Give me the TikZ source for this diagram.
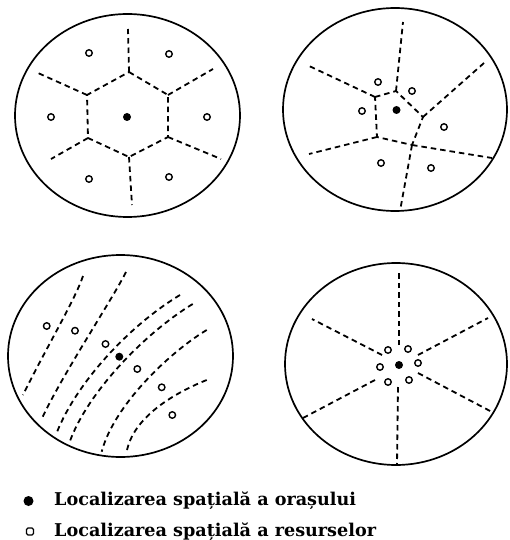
\documentclass[tikz,border=0pt]{standalone}
\usepackage{fontspec}
\newfontfamily\legfont{DejaVu Serif}
\begin{document}
\begin{tikzpicture}[x=1pt,y=-1pt,
  rim/.style={line width=1.7pt},
  bnd/.style={line width=1.8pt, dash pattern=on 5.5pt off 4pt},
  city/.style={circle, fill=black, inner sep=0pt, minimum size=8pt},
  res/.style={circle, draw, line width=1.4pt, fill=white, inner sep=0pt, minimum size=6.5pt},
  leg/.style={anchor=base west, inner sep=0pt, font=\legfont\bfseries\fontsize{17.6}{19}\selectfont}]
\useasboundingbox (0,0) rectangle (509,540);

% ---------- top-left: hexagonal ----------
\draw[rim] (127.5,115.5) ellipse [x radius=112.5pt, y radius=101.5pt];
\coordinate (h1) at (129,72);
\coordinate (h2) at (168,95);
\coordinate (h3) at (168,137);
\coordinate (h4) at (129,157);
\coordinate (h5) at (88,138);
\coordinate (h6) at (87,95);
\draw[bnd] (h1)--(h2)--(h3)--(h4)--(h5)--(h6)--cycle;
\draw[bnd] (h1)--(128,29);
\draw[bnd] (h2)--(213,69);
\draw[bnd] (h3)--(221,159);
\draw[bnd] (h4)--(132,205);
\draw[bnd] (h5)--(51,159);
\draw[bnd] (h6)--(38,73);
\node[city] (a0) at (127,117) {};
\node[res] (a1) at (89,53) {};
\node[res] (a2) at (169,54) {};
\node[res] (a3) at (51,117) {};
\node[res] (a4) at (207,117) {};
\node[res] (a5) at (89,179) {};
\node[res] (a6) at (169,177) {};

% ---------- top-right: irregular ----------
\draw[rim] (395,109.5) ellipse [x radius=112pt, y radius=101.5pt];
\coordinate (p1) at (396,91);
\coordinate (p2) at (423,117);
\coordinate (p3) at (412,145);
\coordinate (p4) at (377,137);
\coordinate (p5) at (375,97);
\draw[bnd] (p5)--(p1)--(p2)--(p3)--(p4)--cycle;
\draw[bnd] (p1)--(403,22);
\draw[bnd] (p5)--(307,65);
\draw[bnd] (p2)--(484,63);
\draw[bnd] (p4)--(309,154);
\draw[bnd] (p3)--(492,158);
\draw[bnd] (p3)--(400,211);
\node[city] (b0) at (396.5,110) {};
\node[res] (b1) at (378,82) {};
\node[res] (b2) at (412,91) {};
\node[res] (b3) at (362,111) {};
\node[res] (b4) at (444,127) {};
\node[res] (b5) at (381,163) {};
\node[res] (b6) at (431,168) {};

% ---------- bottom-left: curved bands ----------
\draw[rim] (120.5,356) ellipse [x radius=112.5pt, y radius=101pt];
\draw[bnd] (83,276) .. controls (75,300) and (45,350) .. (23,395);
\draw[bnd] (126,272) .. controls (112,300) and (62,375) .. (41.7,419);
\draw[bnd] (180,295) .. controls (130,325) and (77,382) .. (57,432);
\draw[bnd] (192.7,304) .. controls (145,333) and (88,392) .. (70,441);
\draw[bnd] (206.7,330) .. controls (170,352) and (114,405) .. (101.7,451.7);
\draw[bnd] (206.7,380) .. controls (172,394) and (133,418) .. (126.7,451.7);
\node[city] (c0) at (119.3,356.7) {};
\node[res] (c1) at (46.7,326) {};
\node[res] (c2) at (75,330.7) {};
\node[res] (c3) at (105.5,344) {};
\node[res] (c4) at (137.3,369) {};
\node[res] (c5) at (161.7,387.3) {};
\node[res] (c6) at (172.3,415) {};

% ---------- bottom-right: radial ----------
\draw[rim] (396,364) ellipse [x radius=111pt, y radius=101pt];
\draw[bnd] (399,345)--(399,273);
\draw[bnd] (382,355)--(312,319);
\draw[bnd] (418,355)--(488,318);
\draw[bnd] (418,373)--(492,412);
\draw[bnd] (375,380)--(303,418);
\draw[bnd] (398,387)--(397,465);
\node[city] (d0) at (399,365) {};
\node[res] (d1) at (388,350) {};
\node[res] (d2) at (408,349) {};
\node[res] (d3) at (418,363) {};
\node[res] (d4) at (409,380) {};
\node[res] (d5) at (388,382) {};
\node[res] (d6) at (380,367) {};

% ---------- legend ----------
\node[circle, fill=black, inner sep=0pt, minimum size=10pt] (k1) at (28.5,501) {};
\node[draw, line width=1.1pt, rounded corners=1.5pt, inner sep=0pt, minimum size=7pt] (k2) at (30,531.5) {};
\node[leg] (t1) at (54,505) {Localizarea spațială a orașului};
\node[leg] (t2) at (54,536.5) {Localizarea spațială a resurselor};
\end{tikzpicture}
\end{document}
